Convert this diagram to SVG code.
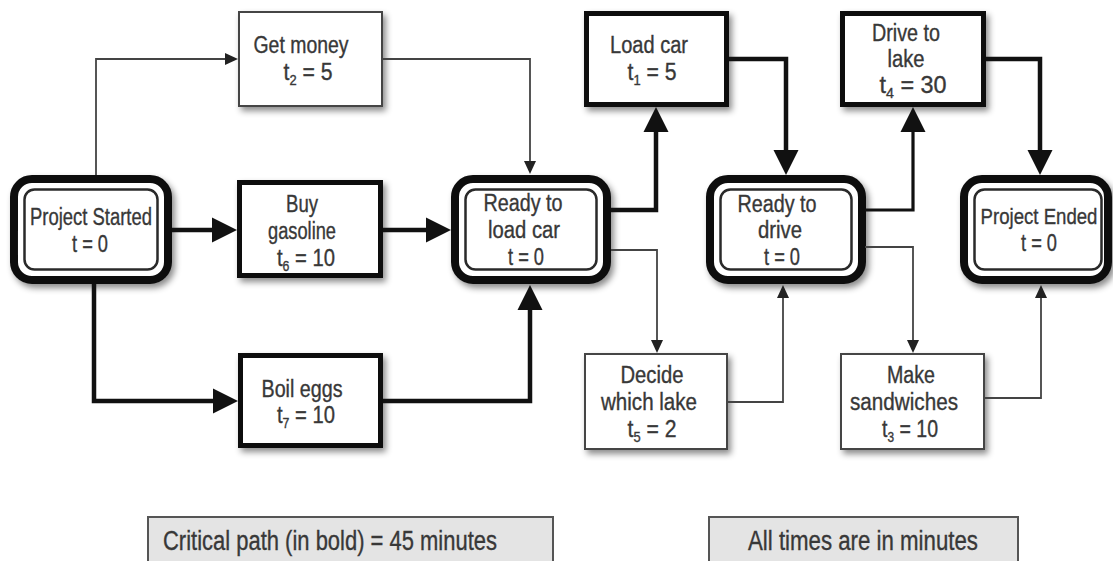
<svg xmlns="http://www.w3.org/2000/svg" width="1113" height="561" viewBox="0 0 1113 561">
<style>
.t{font-family:"Liberation Sans",Arial,sans-serif;font-size:23px;fill:#383838;stroke:#383838;stroke-width:0.35;text-anchor:middle}
.b{font-size:27px}
.sub{font-size:14px}
.thick{fill:none;stroke:#111;stroke-width:4.5}
.mid{fill:none;stroke:#111;stroke-width:3.2}
.thin{fill:none;stroke:#444;stroke-width:1.8}
.tb{fill:#fff;stroke:#111;stroke-width:5}
.tt{fill:#fff;stroke:#444;stroke-width:2}
.mo{fill:#fff;stroke:#111;stroke-width:8}
.mi{fill:none;stroke:#2a2a2a;stroke-width:2.5}
.note{fill:#e4e4e4;stroke:#555;stroke-width:2}
</style>
<defs>
<filter id="sh" x="-20%" y="-20%" width="140%" height="150%">
<feDropShadow dx="3" dy="4" stdDeviation="3" flood-color="#000" flood-opacity="0.45"/>
</filter>
<marker id="ab" markerUnits="userSpaceOnUse" markerWidth="26" markerHeight="26" refX="0" refY="12.5" orient="auto" overflow="visible"><path d="M0,0 L25,12.5 L0,25 z" fill="#111"/></marker>
<marker id="as" markerUnits="userSpaceOnUse" markerWidth="14" markerHeight="13" refX="0" refY="6" orient="auto" overflow="visible"><path d="M0,0 L13,6 L0,12 z" fill="#222"/></marker>
</defs>
<rect width="1113" height="561" fill="#fff"/>

<g id="project-started">
<rect class="mo" x="14" y="179" width="154" height="101" rx="18" filter="url(#sh)"/>
<rect class="mi" x="24.5" y="189.5" width="133" height="80" rx="10"/>
<text class="t" x="91" y="225" textLength="122" lengthAdjust="spacingAndGlyphs">Project Started</text>
<text class="t" x="90" y="252" textLength="36" lengthAdjust="spacingAndGlyphs">t = 0</text>
</g>

<g id="get-money">
<rect class="tt" x="239" y="12" width="143" height="94" filter="url(#sh)"/>
<text class="t" x="301" y="53" textLength="95" lengthAdjust="spacingAndGlyphs">Get money</text>
<text class="t" x="308" y="80" textLength="49" lengthAdjust="spacingAndGlyphs">t<tspan class="sub" dy="5">2</tspan><tspan dy="-5"> = 5</tspan></text>
</g>

<g id="buy-gasoline">
<rect class="tb" x="239.5" y="182.5" width="141" height="93" filter="url(#sh)"/>
<text class="t" x="302" y="212" textLength="32" lengthAdjust="spacingAndGlyphs">Buy</text>
<text class="t" x="302" y="239" textLength="68" lengthAdjust="spacingAndGlyphs">gasoline</text>
<text class="t" x="306" y="266" textLength="58" lengthAdjust="spacingAndGlyphs">t<tspan class="sub" dy="5">6</tspan><tspan dy="-5"> = 10</tspan></text>
</g>

<g id="boil-eggs">
<rect class="tb" x="240.5" y="355.5" width="140" height="90" filter="url(#sh)"/>
<text class="t" x="302" y="397" textLength="81" lengthAdjust="spacingAndGlyphs">Boil eggs</text>
<text class="t" x="306" y="423" textLength="58" lengthAdjust="spacingAndGlyphs">t<tspan class="sub" dy="5">7</tspan><tspan dy="-5"> = 10</tspan></text>
</g>

<g id="ready-to-load-car">
<rect class="mo" x="455" y="179" width="152" height="101" rx="18" filter="url(#sh)"/>
<rect class="mi" x="465.5" y="189.5" width="131" height="80" rx="10"/>
<text class="t" x="523" y="211" textLength="79" lengthAdjust="spacingAndGlyphs">Ready to</text>
<text class="t" x="524" y="238" textLength="72" lengthAdjust="spacingAndGlyphs">load car</text>
<text class="t" x="526" y="265" textLength="36" lengthAdjust="spacingAndGlyphs">t = 0</text>
</g>

<g id="load-car">
<rect class="tb" x="586.5" y="13.5" width="140" height="91" filter="url(#sh)"/>
<text class="t" x="649" y="53" textLength="78" lengthAdjust="spacingAndGlyphs">Load car</text>
<text class="t" x="652" y="80" textLength="49" lengthAdjust="spacingAndGlyphs">t<tspan class="sub" dy="5">1</tspan><tspan dy="-5"> = 5</tspan></text>
</g>

<g id="decide-which-lake">
<rect class="tt" x="585" y="354" width="142" height="95" filter="url(#sh)"/>
<text class="t" x="652" y="383" textLength="63" lengthAdjust="spacingAndGlyphs">Decide</text>
<text class="t" x="649" y="410" textLength="96" lengthAdjust="spacingAndGlyphs">which lake</text>
<text class="t" x="652" y="437" textLength="49" lengthAdjust="spacingAndGlyphs">t<tspan class="sub" dy="5">5</tspan><tspan dy="-5"> = 2</tspan></text>
</g>

<g id="ready-to-drive">
<rect class="mo" x="710" y="179" width="152" height="101" rx="18" filter="url(#sh)"/>
<rect class="mi" x="720.5" y="189.5" width="131" height="80" rx="10"/>
<text class="t" x="777" y="212" textLength="79" lengthAdjust="spacingAndGlyphs">Ready to</text>
<text class="t" x="780" y="238" textLength="44" lengthAdjust="spacingAndGlyphs">drive</text>
<text class="t" x="782" y="265" textLength="36" lengthAdjust="spacingAndGlyphs">t = 0</text>
</g>

<g id="drive-to-lake">
<rect class="tb" x="842.5" y="13.5" width="141" height="91" filter="url(#sh)"/>
<text class="t" x="906" y="41" textLength="68" lengthAdjust="spacingAndGlyphs">Drive to</text>
<text class="t" x="906" y="67" textLength="37" lengthAdjust="spacingAndGlyphs">lake</text>
<text class="t" x="913" y="93" textLength="67" lengthAdjust="spacingAndGlyphs">t<tspan class="sub" dy="5">4</tspan><tspan dy="-5"> = 30</tspan></text>
</g>

<g id="make-sandwiches">
<rect class="tt" x="841" y="354" width="143" height="95" filter="url(#sh)"/>
<text class="t" x="911" y="383" textLength="48" lengthAdjust="spacingAndGlyphs">Make</text>
<text class="t" x="904" y="410" textLength="108" lengthAdjust="spacingAndGlyphs">sandwiches</text>
<text class="t" x="910" y="437" textLength="56" lengthAdjust="spacingAndGlyphs">t<tspan class="sub" dy="5">3</tspan><tspan dy="-5"> = 10</tspan></text>
</g>

<g id="project-ended">
<rect class="mo" x="964" y="179" width="144" height="101" rx="18" filter="url(#sh)"/>
<rect class="mi" x="974.5" y="189.5" width="127" height="80" rx="10"/>
<text class="t" transform="translate(1039 224) scale(0.81 1)" x="0" y="0">Project Ended</text>
<text class="t" x="1039" y="251" textLength="36" lengthAdjust="spacingAndGlyphs">t = 0</text>
</g>

<g id="connectors">
<path class="thin" d="M96,175 V59 H225" marker-end="url(#as)"/>
<path class="thick" d="M172,230 H212" marker-end="url(#ab)"/>
<path class="thick" d="M94,284 V401 H213" marker-end="url(#ab)"/>
<path class="thin" d="M383,59 H530 V161" marker-end="url(#as)"/>
<path class="thick" d="M383,230 H426" marker-end="url(#ab)"/>
<path class="thick" d="M383,401 H530 V310" marker-end="url(#ab)"/>
<path class="thick" d="M611,210 H656 V132" marker-end="url(#ab)"/>
<path class="thin" d="M611,250 H657 V340" marker-end="url(#as)"/>
<path class="thick" d="M729,59 H786 V150" marker-end="url(#ab)"/>
<path class="thin" d="M728,402 H783 V298" marker-end="url(#as)"/>
<path class="mid" d="M865,210 H913 V132" marker-end="url(#ab)"/>
<path class="thin" d="M865,247 H913 V340" marker-end="url(#as)"/>
<path class="thick" d="M986,59 H1040 V150" marker-end="url(#ab)"/>
<path class="thin" d="M985,398 H1041 V298" marker-end="url(#as)"/>
</g>

<g id="note-critical">
<rect class="note" x="148" y="517" width="405" height="50"/>
<text class="t b" x="330" y="550" textLength="334" lengthAdjust="spacingAndGlyphs">Critical path (in bold) = 45 minutes</text>
</g>
<g id="note-times">
<rect class="note" x="709" y="517" width="309" height="50"/>
<text class="t b" x="863" y="550" textLength="230" lengthAdjust="spacingAndGlyphs">All times are in minutes</text>
</g>
</svg>
